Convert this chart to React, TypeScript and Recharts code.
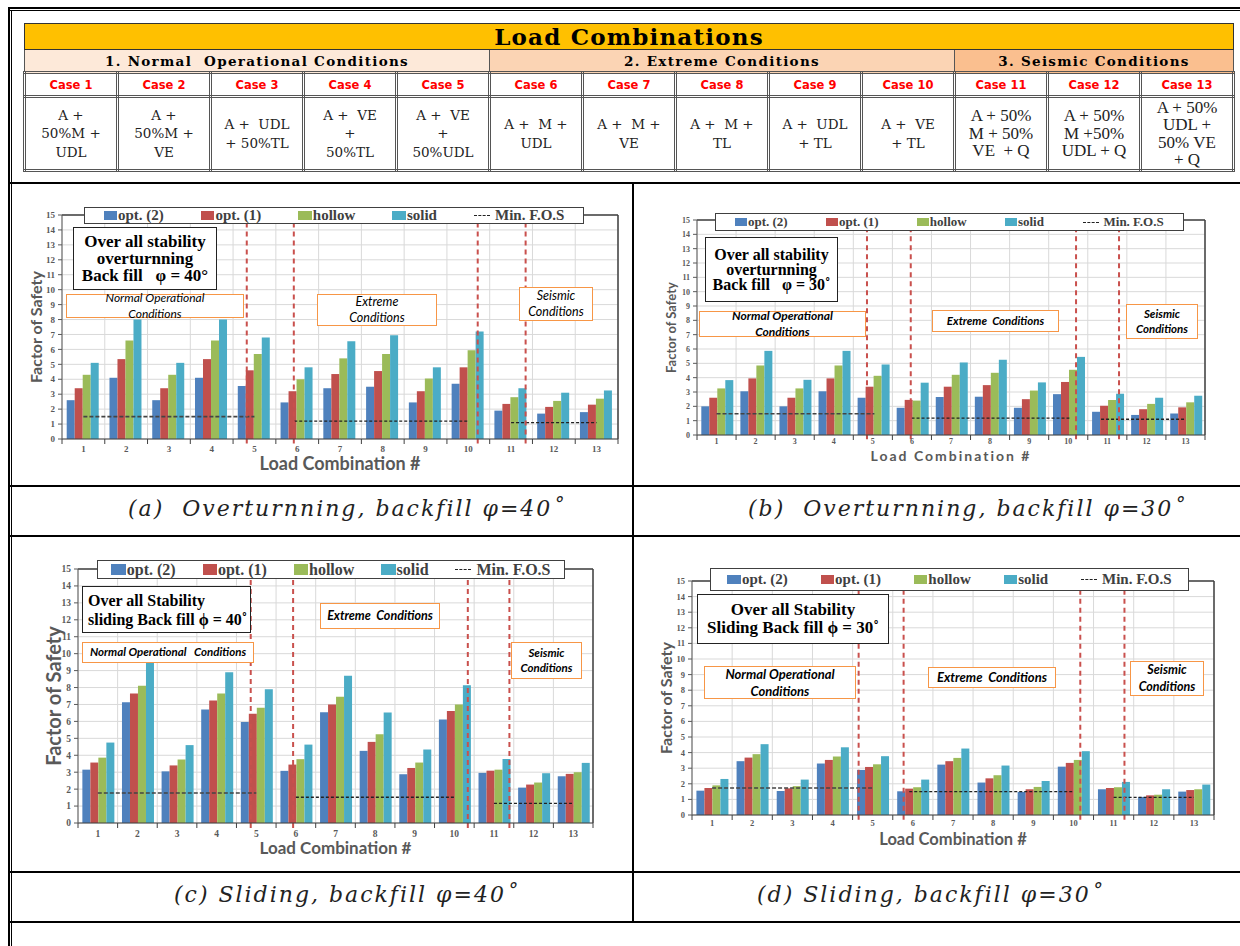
import React from 'react'
import { BarChart, Bar, XAxis, YAxis, CartesianGrid, ReferenceLine } from 'recharts'

const CASES = ['1', '2', '3', '4', '5', '6', '7', '8', '9', '10', '11', '12', '13']
const Y_TICKS = [0, 1, 2, 3, 4, 5, 6, 7, 8, 9, 10, 11, 12, 13, 14, 15]
const BOUNDS = [0.5, 1.5, 2.5, 3.5, 4.5, 5.5, 6.5, 7.5, 8.5, 9.5, 10.5, 11.5, 12.5, 13.5]

// (a) overturning, backfill 40
const A_OPT2 = [2.6, 4.1, 2.6, 4.1, 3.55, 2.45, 3.4, 3.5, 2.45, 3.7, 1.9, 1.7, 1.8]
const A_OPT1 = [3.4, 5.35, 3.4, 5.35, 4.6, 3.2, 4.35, 4.55, 3.2, 4.8, 2.35, 2.15, 2.3]
const A_HOLLOW = [4.3, 6.6, 4.3, 6.6, 5.7, 4.0, 5.4, 5.7, 4.05, 5.95, 2.8, 2.55, 2.7]
const A_SOLID = [5.1, 8.0, 5.1, 8.0, 6.8, 4.8, 6.55, 6.95, 4.8, 7.2, 3.4, 3.1, 3.25]
const A_DIVIDERS = [4.82, 5.92, 10.22, 11.34]
const A_MIN_FOS = [
  { from: 1, to: 5, y: 1.5 },
  { from: 5.93, to: 10, y: 1.2 },
  { from: 11, to: 13, y: 1.1 },
]

// (b) overturning, backfill 30
const B_OPT2 = [2.0, 3.05, 2.0, 3.05, 2.6, 1.9, 2.65, 2.67, 1.9, 2.85, 1.62, 1.4, 1.5]
const B_OPT1 = [2.6, 3.95, 2.6, 3.95, 3.37, 2.45, 3.37, 3.48, 2.5, 3.7, 2.04, 1.8, 1.93]
const B_HOLLOW = [3.25, 4.85, 3.25, 4.85, 4.13, 2.4, 4.2, 4.34, 3.1, 4.55, 2.44, 2.17, 2.28]
const B_SOLID = [3.83, 5.87, 3.85, 5.87, 4.92, 3.65, 5.06, 5.25, 3.67, 5.45, 2.88, 2.6, 2.74]
const B_DIVIDERS = [4.85, 5.97, 10.2, 11.3]
const B_MIN_FOS = [
  { from: 1, to: 5.04, y: 1.48 },
  { from: 5.99, to: 10.03, y: 1.18 },
  { from: 10.84, to: 13, y: 1.1 },
]

// (c) sliding, backfill 40
const C_OPT2 = [3.15, 7.13, 3.05, 6.7, 5.97, 3.08, 6.54, 4.26, 2.88, 6.11, 2.96, 2.09, 2.76]
const C_OPT1 = [3.57, 7.65, 3.4, 7.23, 6.45, 3.45, 7.0, 4.79, 3.25, 6.62, 3.09, 2.27, 2.9]
const C_HOLLOW = [3.86, 8.1, 3.75, 7.65, 6.8, 3.77, 7.45, 5.24, 3.57, 7.0, 3.15, 2.39, 3.0]
const C_SOLID = [4.75, 9.6, 4.6, 8.9, 7.9, 4.63, 8.7, 6.52, 4.34, 8.14, 3.78, 2.94, 3.55]
const C_DIVIDERS = [4.86, 5.93, 10.34, 11.39]
const C_MIN_FOS = [
  { from: 1, to: 5, y: 1.77 },
  { from: 6, to: 10, y: 1.52 },
  { from: 11, to: 13, y: 1.16 },
]

// (d) sliding, backfill 30
const D_OPT2 = [1.56, 3.45, 1.54, 3.3, 2.89, 1.52, 3.23, 2.08, 1.48, 3.1, 1.65, 1.16, 1.5]
const D_OPT1 = [1.73, 3.68, 1.71, 3.53, 3.08, 1.69, 3.45, 2.35, 1.65, 3.34, 1.73, 1.26, 1.6]
const D_HOLLOW = [1.9, 3.9, 1.85, 3.75, 3.25, 1.78, 3.66, 2.55, 1.8, 3.53, 1.78, 1.3, 1.65]
const D_SOLID = [2.31, 4.54, 2.27, 4.34, 3.77, 2.27, 4.26, 3.17, 2.18, 4.09, 2.12, 1.65, 1.95]
const D_DIVIDERS = [4.65, 5.77, 10.17, 11.27]
const D_MIN_FOS = [
  { from: 1, to: 5, y: 1.73 },
  { from: 5.91, to: 10, y: 1.5 },
  { from: 11, to: 13, y: 1.13 },
]

const SERIES = [
  { key: 'opt2', name: 'opt. (2)', color: '#4f81bd' },
  { key: 'opt1', name: 'opt. (1)', color: '#c0504d' },
  { key: 'hollow', name: 'hollow', color: '#9bbb59' },
  { key: 'solid', name: 'solid', color: '#4bacc6' },
]

// header table
const GROUPS = [
  { label: '1. Normal  Operational Conditions', span: 5, bg: '#fde9d9' },
  { label: '2. Extreme Conditions', span: 5, bg: '#fbd4b4' },
  { label: '3. Seismic Conditions', span: 3, bg: '#fabf8f' },
]
const COMBOS = [
  'A +\n50%M +\nUDL',
  'A +\n50%M +\nVE',
  'A +  UDL\n+ 50%TL',
  'A +  VE\n+\n50%TL',
  'A +  VE\n+\n50%UDL',
  'A +  M +\nUDL',
  'A +  M +\nVE',
  'A +  M +\nTL',
  'A +  UDL\n+ TL',
  'A +  VE\n+ TL',
  'A + 50%\nM + 50%\nVE  + Q',
  'A + 50%\nM +50%\nUDL + Q',
  'A + 50%\nUDL +\n50% VE\n+ Q',
]

function buildRows(o2: number[], o1: number[], h: number[], s: number[]) {
  return CASES.map((c, i) => ({ name: c, idx: i + 1, opt2: o2[i], opt1: o1[i], hollow: h[i], solid: s[i] }))
}

const SERIF = '"Liberation Serif", "DejaVu Serif", serif'
const SANS = 'Lato, "Open Sans", sans-serif'
const GRAY = '#595959'

type Box = { x: number; y: number; w: number; h: number }
type Note = Box & { text: string; bold?: boolean; size: number }

interface Panel {
  rows: ReturnType<typeof buildRows>
  dividers: number[]
  minFos: { from: number; to: number; y: number }[]
  box: Box
  plot: { l: number; r: number; t: number; b: number }
  xAxisH: number
  tickGap: number
  yLabelX: number
  tickFont: number
  yLabelFont: number
  xLabelFont: number
  xLabelSpacing: number
  legend: Box & { size: number }
  overall: Box & { text: string; size: number; lh: number; align: 'center' | 'left' }
  notes: Note[]
  caption: { text: string; x: number; y: number }
}

const PANELS: Panel[] = [
  {
    rows: buildRows(A_OPT2, A_OPT1, A_HOLLOW, A_SOLID),
    dividers: A_DIVIDERS,
    minFos: A_MIN_FOS,
    box: { x: 10, y: 188, w: 620, h: 292 },
    plot: { l: 62, r: 618, t: 215, b: 439 },
    xAxisH: 31,
    tickGap: 4,
    yLabelX: 36,
    tickFont: 9,
    yLabelFont: 16,
    xLabelFont: 18,
    xLabelSpacing: 0,
    legend: { x: 84, y: 207, w: 500, h: 17, size: 15 },
    overall: { x: 73, y: 227, w: 144, h: 63, text: 'Over all stability\noverturnning\nBack fill   φ = 40°', size: 17, lh: 17, align: 'center' },
    notes: [
      { x: 66, y: 294, w: 178, h: 24, text: 'Normal Operational\nConditions', size: 12 },
      { x: 317, y: 294, w: 120, h: 32, text: 'Extreme\nConditions', size: 12.5 },
      { x: 519, y: 287, w: 74, h: 34, text: 'Seismic\nConditions', size: 12.5 },
    ],
    caption: { text: '(a)  Overturnning, backfill φ=40˚', x: 128, y: 511 },
  },
  {
    rows: buildRows(B_OPT2, B_OPT1, B_HOLLOW, B_SOLID),
    dividers: B_DIVIDERS,
    minFos: B_MIN_FOS,
    box: { x: 634, y: 188, w: 604, h: 292 },
    plot: { l: 697, r: 1205, t: 220, b: 435 },
    xAxisH: 26,
    tickGap: 1,
    yLabelX: 671,
    tickFont: 8,
    yLabelFont: 13,
    xLabelFont: 14,
    xLabelSpacing: 2,
    legend: { x: 715, y: 213, w: 469, h: 18, size: 13 },
    overall: { x: 705, y: 237, w: 133, h: 65, text: 'Over all stability\noverturnning\nBack fill   φ = 30˚', size: 16, lh: 15, align: 'center' },
    notes: [
      { x: 699, y: 311, w: 167, h: 26, text: 'Normal Operational\nConditions', size: 12, bold: true },
      { x: 932, y: 310, w: 127, h: 22, text: 'Extreme  Conditions', size: 11.5, bold: true },
      { x: 1126, y: 304, w: 72, h: 35, text: 'Seismic\nConditions', size: 11.5, bold: true },
    ],
    caption: { text: '(b)  Overturnning, backfill φ=30˚', x: 748, y: 511 },
  },
  {
    rows: buildRows(C_OPT2, C_OPT1, C_HOLLOW, C_SOLID),
    dividers: C_DIVIDERS,
    minFos: C_MIN_FOS,
    box: { x: 10, y: 540, w: 620, h: 325 },
    plot: { l: 78, r: 593, t: 569, b: 823 },
    xAxisH: 31,
    tickGap: 4,
    yLabelX: 54,
    tickFont: 9.5,
    yLabelFont: 20,
    xLabelFont: 17,
    xLabelSpacing: 0,
    legend: { x: 97, y: 560, w: 468, h: 19, size: 16 },
    overall: { x: 82, y: 586, w: 169, h: 47, text: 'Over all Stability\nsliding Back fill ϕ = 40˚', size: 16, lh: 19, align: 'left' },
    notes: [
      { x: 82, y: 642, w: 172, h: 21, text: 'Normal Operational   Conditions', size: 11.5, bold: true },
      { x: 320, y: 603, w: 120, h: 26, text: 'Extreme  Conditions', size: 12.5, bold: true },
      { x: 511, y: 642, w: 71, h: 37, text: 'Seismic\nConditions', size: 11.5, bold: true },
    ],
    caption: { text: '(c) Sliding, backfill φ=40˚', x: 174, y: 897 },
  },
  {
    rows: buildRows(D_OPT2, D_OPT1, D_HOLLOW, D_SOLID),
    dividers: D_DIVIDERS,
    minFos: D_MIN_FOS,
    box: { x: 634, y: 540, w: 604, h: 325 },
    plot: { l: 692, r: 1214, t: 581, b: 815 },
    xAxisH: 30,
    tickGap: 2,
    yLabelX: 666,
    tickFont: 8.5,
    yLabelFont: 16,
    xLabelFont: 16.5,
    xLabelSpacing: 0,
    legend: { x: 710, y: 568, w: 479, h: 23, size: 15 },
    overall: { x: 697, y: 594, w: 192, h: 50, text: 'Over all Stability\nSliding Back fill ϕ = 30˚', size: 17, lh: 18, align: 'center' },
    notes: [
      { x: 704, y: 666, w: 152, h: 33, text: 'Normal Operational\nConditions', size: 13, bold: true },
      { x: 928, y: 667, w: 128, h: 21, text: 'Extreme  Conditions', size: 13, bold: true },
      { x: 1130, y: 661, w: 74, h: 35, text: 'Seismic\nConditions', size: 12.5, bold: true },
    ],
    caption: { text: '(d) Sliding, backfill φ=30˚', x: 757, y: 897 },
  },
]

function CatTick(props: any) {
  const { x, y, payload, index, visibleTicksCount, fontSize, half, gap } = props
  const h = payload && payload.offset ? payload.offset : half
  return (
    <g>
      <line x1={x - h} x2={x - h} y1={y} y2={y + 5} stroke="#404040" />
      {index === visibleTicksCount - 1 && <line x1={x + h} x2={x + h} y1={y} y2={y + 5} stroke="#404040" />}
      <text x={x} y={y + fontSize + gap} textAnchor="middle" fontSize={fontSize} fontWeight={700} fontFamily={SERIF} fill={GRAY}>
        {payload.value}
      </text>
    </g>
  )
}

function Chart({ p }: { p: Panel }) {
  const { box, plot } = p
  const half = (plot.r - plot.l) / CASES.length / 2
  return (
    <div style={{ position: 'absolute', left: box.x, top: box.y }}>
      <BarChart
        width={box.w}
        height={box.h}
        data={p.rows}
        barCategoryGap="11%"
        barGap={0}
        margin={{ top: plot.t - box.y, right: box.x + box.w - plot.r, left: 2, bottom: box.y + box.h - plot.b - p.xAxisH }}
      >
        <CartesianGrid xAxisId="n" stroke="#d9d9d9" />
        <XAxis
          dataKey="name"
          height={p.xAxisH}
          tickSize={0}
          tickMargin={0}
          tickLine={false}
          axisLine={{ stroke: '#404040' }}
          interval={0}
          tick={(t: any) => <CatTick {...t} fontSize={p.tickFont} half={half} gap={p.tickGap} />}
          label={{
            value: 'Load Combination #', position: 'insideBottom', offset: 0,
            style: { fontFamily: SANS, fontWeight: 700, fontSize: p.xLabelFont, letterSpacing: p.xLabelSpacing, fill: GRAY },
          }}
        />
        <XAxis xAxisId="n" type="number" dataKey="idx" domain={[0.5, 13.5]} ticks={BOUNDS} allowDataOverflow hide />
        <YAxis
          width={plot.l - box.x - 2}
          domain={[0, 15]}
          ticks={Y_TICKS}
          interval={0}
          tickSize={4}
          tickMargin={3}
          axisLine={{ stroke: GRAY }}
          tickLine={{ stroke: GRAY }}
          tick={{ fontSize: p.tickFont, fontWeight: 700, fontFamily: SERIF, fill: GRAY }}
          label={{
            value: 'Factor of Safety', angle: -90, position: 'insideLeft', offset: p.yLabelX - box.x - 2,
            style: { textAnchor: 'middle', fontFamily: SANS, fontWeight: 700, fontSize: p.yLabelFont, fill: GRAY },
          }}
        />
        {SERIES.map(s => (
          <Bar key={s.key} dataKey={s.key} name={s.name} fill={s.color} isAnimationActive={false} />
        ))}
        <ReferenceLine y={15} stroke="#404040" strokeWidth={1.5} />
        <ReferenceLine xAxisId="n" x={13.5} stroke="#404040" strokeWidth={1.5} />
        {p.minFos.map((m, i) => (
          <ReferenceLine
            key={'m' + i}
            xAxisId="n"
            segment={[{ x: m.from, y: m.y }, { x: m.to, y: m.y }]}
            stroke={i === 0 ? '#444' : '#222'}
            strokeWidth={i === 0 ? 1.6 : 1.3}
            strokeDasharray={i === 0 ? '4 2' : '3 2'}
          />
        ))}
        {p.dividers.map((d, i) => (
          <ReferenceLine
            key={'d' + i}
            xAxisId="n"
            segment={[{ x: d, y: -0.3 }, { x: d, y: 14.4 }]}
            ifOverflow="visible"
            stroke="#c9504d"
            strokeWidth={2}
            strokeDasharray="5 4"
          />
        ))}
      </BarChart>
    </div>
  )
}

function Overlays({ p }: { p: Panel }) {
  const { legend, overall } = p
  return (
    <>
      <div
        style={{
          position: 'absolute', left: legend.x, top: legend.y, width: legend.w, height: legend.h,
          border: '1.5px solid #404040', background: '#fff', boxSizing: 'border-box',
          display: 'flex', alignItems: 'center', justifyContent: 'space-around',
          fontFamily: SERIF, fontWeight: 700, fontSize: legend.size, color: '#404040', whiteSpace: 'nowrap',
        }}
      >
        {SERIES.map(s => (
          <span key={s.key} style={{ display: 'flex', alignItems: 'center' }}>
            <span style={{ display: 'inline-block', width: legend.size * 0.9, height: legend.size * 0.65, background: s.color, marginRight: 1 }} />
            {s.name}
          </span>
        ))}
        <span style={{ display: 'flex', alignItems: 'center' }}>
          <span style={{ display: 'inline-block', width: 16, borderTop: '1.5px dashed #222', marginRight: 5 }} />
          Min. F.O.S
        </span>
      </div>
      <div
        style={{
          position: 'absolute', left: overall.x, top: overall.y, width: overall.w, height: overall.h,
          border: '1.5px solid #222', background: '#fff', boxSizing: 'border-box',
          display: 'flex', alignItems: 'center', justifyContent: overall.align === 'center' ? 'center' : 'flex-start',
          padding: '0 5px', whiteSpace: 'pre', textAlign: overall.align,
          fontFamily: SERIF, fontWeight: 700, fontSize: overall.size, lineHeight: overall.lh + 'px', color: '#000',
        }}
      >
        {overall.text}
      </div>
      {p.notes.map((n, i) => (
        <div
          key={i}
          style={{
            position: 'absolute', left: n.x, top: n.y, width: n.w, height: n.h,
            border: '1.5px solid #f79646', background: '#fff', boxSizing: 'border-box',
            display: 'flex', alignItems: 'center', justifyContent: 'center',
            whiteSpace: 'pre', textAlign: 'center', fontFamily: SANS, fontStyle: 'italic',
            fontWeight: n.bold ? 700 : 400, fontSize: n.size, lineHeight: 1.3, color: '#000',
          }}
        >
          {n.text}
        </div>
      ))}
      <div
        style={{
          position: 'absolute', left: p.caption.x, top: p.caption.y - 15, whiteSpace: 'pre',
          fontFamily: '"DejaVu Serif", serif', fontStyle: 'italic', fontSize: 22, letterSpacing: 2, color: '#222',
        }}
      >
        {p.caption.text}
      </div>
    </>
  )
}

function HeaderTable() {
  const cell: React.CSSProperties = { border: '3px double #555', textAlign: 'center', padding: 0 }
  return (
    <table style={{ position: 'absolute', left: 23, top: 23, width: 1212, borderCollapse: 'collapse', tableLayout: 'fixed' }}>
      <tbody>
        <tr style={{ height: 26 }}>
          <td
            colSpan={13}
            style={{ border: '1.5px solid #333', background: '#ffc000', textAlign: 'center', fontFamily: '"DejaVu Serif", serif', fontWeight: 700, fontSize: 23, letterSpacing: 1.2, padding: 0, lineHeight: '24px' }}
          >
            Load Combinations
          </td>
        </tr>
        <tr style={{ height: 23 }}>
          {GROUPS.map(g => (
            <td
              key={g.label}
              colSpan={g.span}
              style={{ border: '1.5px solid #555', background: g.bg, textAlign: 'center', whiteSpace: 'pre', fontFamily: '"DejaVu Serif", serif', fontWeight: 700, fontSize: 13.5, letterSpacing: 1.3, padding: 0 }}
            >
              {g.label}
            </td>
          ))}
        </tr>
        <tr style={{ height: 24 }}>
          {CASES.map(c => (
            <td key={c} style={{ ...cell, color: '#ff0000', fontFamily: '"DejaVu Sans", sans-serif', fontWeight: 700, fontSize: 11.5 }}>
              Case {c}
            </td>
          ))}
        </tr>
        <tr style={{ height: 74 }}>
          {COMBOS.map((t, i) => (
            <td
              key={i}
              style={{
                ...cell, whiteSpace: 'pre', color: '#222',
                fontFamily: i < 10 ? '"DejaVu Serif", serif' : '"Liberation Serif", serif',
                fontSize: i < 10 ? 13.5 : 17, lineHeight: i < 10 ? '18.5px' : '17.5px',
              }}
            >
              {t}
            </td>
          ))}
        </tr>
      </tbody>
    </table>
  )
}

const line = (l: number, t: number, w: number, h: number): React.CSSProperties => ({
  position: 'absolute', left: l, top: t, width: w, height: h, background: '#000',
})

export default function App() {
  return (
    <div style={{ position: 'absolute', left: 0, top: 0, width: 1240, height: 946, background: '#fff', overflow: 'hidden' }}>
      <div style={line(8, 7, 1232, 2)} />
      <div style={line(10, 10, 1230, 1)} />
      <div style={line(8, 7, 2, 939)} />
      <div style={line(11, 10, 1, 936)} />
      <HeaderTable />
      <div style={line(10, 182, 1230, 2)} />
      <div style={line(10, 485, 1230, 2)} />
      <div style={line(10, 535, 1230, 2)} />
      <div style={line(10, 871, 1230, 2)} />
      <div style={line(10, 921, 1230, 2)} />
      <div style={line(632, 182, 2, 741)} />
      {PANELS.map((p, i) => (
        <Chart key={i} p={p} />
      ))}
      {PANELS.map((p, i) => (
        <Overlays key={i} p={p} />
      ))}
    </div>
  )
}
